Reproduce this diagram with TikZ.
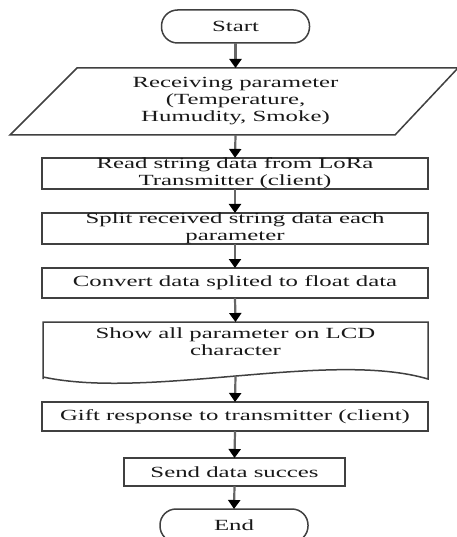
\documentclass[tikz,border=0pt]{standalone}
\usepackage{fontspec}
\setmainfont{Liberation Serif}[FakeStretch=1.6]
\usetikzlibrary{arrows.meta}
\tikzset{
  txt/.style={align=center, inner sep=0pt, outer sep=0pt, font=\fontsize{15.5}{17}\selectfont, text=black!90},
  box/.style={txt, draw=black!75, line width=1.5pt},
  wide/.style={box, minimum width=386pt, minimum height=31pt},
  term/.style={box, rounded corners=16pt, minimum width=148pt, minimum height=33pt},
  shapeline/.style={draw=black!75, line width=1.5pt, line join=miter},
  arr/.style={draw=black!60, line width=2.2pt, -{Triangle[width=12pt,length=9pt,color=black]}}
}
\begin{document}
\begin{tikzpicture}[x=1pt,y=1pt]
\useasboundingbox (0,0) rectangle (456,-537);
\fill[white] (0,0) rectangle (456,-537);

% Start
\node[term] (start) at (235.5,-26.5) {Start};

% Input parallelogram
\node[txt, minimum width=300pt, minimum height=67pt] (inp) at (235.5,-101.5)
  {Receiving parameter\\(Temperature,\\Humudity, Smoke)};
\draw[shapeline] (77,-68) -- (458,-68) -- (395,-135) -- (10,-135) -- cycle;

% Process boxes
\node[wide] (read) at (235,-173.5) {Read string data from LoRa\\Transmitter (client)};
\node[wide] (split) at (235,-228.5) {Split received string data each\\parameter};
\node[wide, minimum height=30pt] (conv) at (235,-283) {Convert data splited to float data};

% Document shape
\node[txt, minimum width=385pt, minimum height=40pt] (doc) at (235.5,-342)
  {Show all parameter on LCD\\character};
\draw[shapeline] (43,-379) -- (43,-322) -- (428,-322) -- (428,-379)
  .. controls (330,-350) and (150,-400) .. (43,-377);
\coordinate (docb) at (235.5,-376);

\node[wide, minimum height=29pt] (gift) at (235,-416.5) {Gift response to transmitter (client)};
\node[box, minimum width=221pt, minimum height=28pt] (send) at (234.5,-472) {Send data succes};

% End
\node[term] (end) at (234,-525.5) {End};

% Connectors
\draw[arr] (start.south) -- (inp.north);
\draw[arr] (inp.south) -- (read.north);
\draw[arr] (read.south) -- (split.north);
\draw[arr] (split.south) -- (conv.north);
\draw[arr] (conv.south) -- (doc.north);
\draw[arr] (docb) -- (gift.north);
\draw[arr] (gift.south) -- (send.north);
\draw[arr] (send.south) -- (end.north);
\end{tikzpicture}
\end{document}
